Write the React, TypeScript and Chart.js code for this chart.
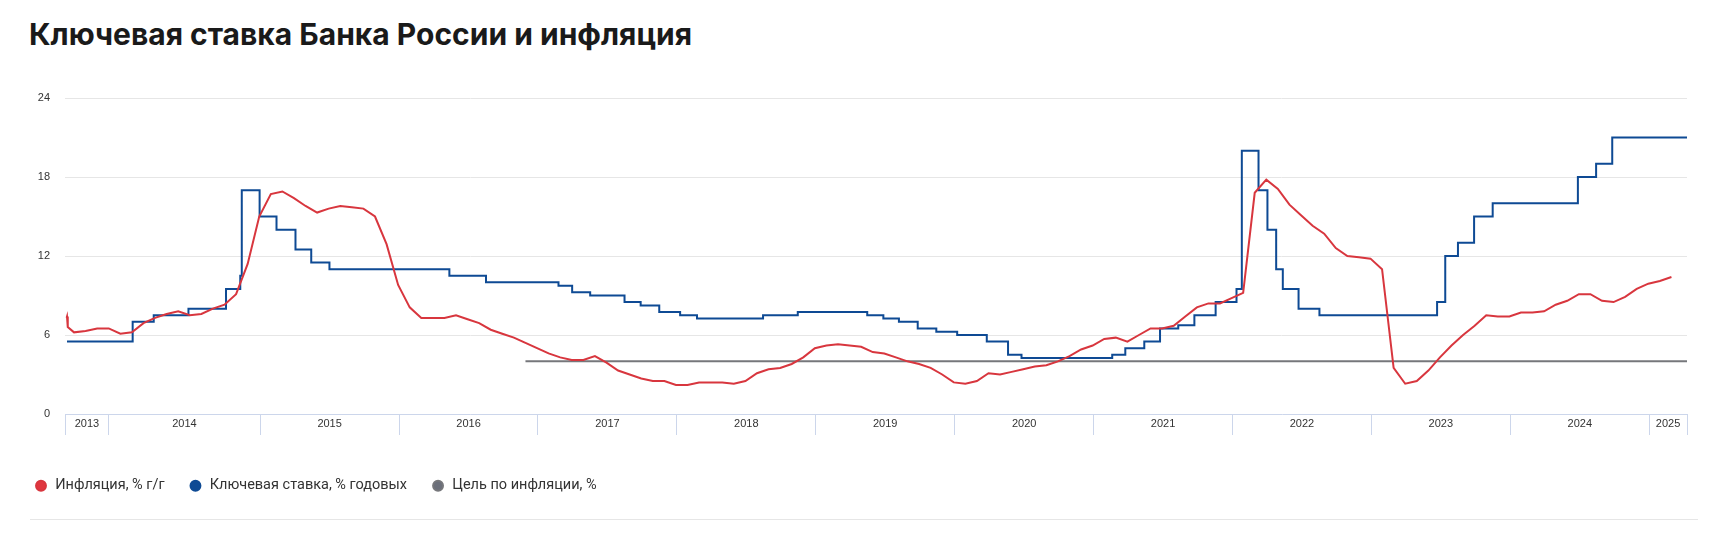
import { useEffect, useRef } from "react";
import { Chart, registerables } from "chart.js";

Chart.register(...registerables);

// Inflation, % y/y, monthly from Sep 2013 (each value is plotted at the end of its month)
const inflationFirstMonth = "2013-09";
const inflationValues = [
  6.2, 6.3, 6.5, 6.5,
  6.1, 6.2, 6.9, 7.3, 7.6, 7.8, 7.5, 7.6, 8.0, 8.3, 9.1, 11.4,
  15.0, 16.7, 16.9, 16.4, 15.8, 15.3, 15.6, 15.8, 15.7, 15.6, 15.0, 12.9,
  9.8, 8.1, 7.3, 7.3, 7.3, 7.5, 7.2, 6.9, 6.4, 6.1, 5.8, 5.4,
  5.0, 4.6, 4.3, 4.1, 4.1, 4.4, 3.9, 3.3, 3.0, 2.7, 2.5, 2.5,
  2.2, 2.2, 2.4, 2.4, 2.4, 2.3, 2.5, 3.1, 3.4, 3.5, 3.8, 4.3,
  5.0, 5.2, 5.3, 5.2, 5.1, 4.7, 4.6, 4.3, 4.0, 3.8, 3.5, 3.0,
  2.4, 2.3, 2.5, 3.1, 3.0, 3.2, 3.4, 3.6, 3.7, 4.0, 4.4, 4.9,
  5.2, 5.7, 5.8, 5.5, 6.0, 6.5, 6.5, 6.7, 7.4, 8.1, 8.4, 8.4,
  8.8, 9.2, 16.8, 17.8, 17.1, 15.9, 15.1, 14.3, 13.7, 12.6, 12.0, 11.9,
  11.8, 11.0, 3.5, 2.3, 2.5, 3.3, 4.3, 5.2, 6.0, 6.7, 7.5, 7.4,
  7.4, 7.7, 7.7, 7.8, 8.3, 8.6, 9.1, 9.1, 8.6, 8.5, 8.9, 9.5,
  9.9, 10.1, 10.4,
];
// short hook at the very start of the red line
const inflationLeadDates = ["2013-09-12", "2013-09-13", "2013-09-15"];
const inflationLeadValues = [7.3, 7.4, 6.6];

// Key rate, % per year (date of change -> new value)
const keyRateDates = [
  "2013-09-13", "2014-03-03", "2014-04-28", "2014-07-28", "2014-11-05", "2014-12-12",
  "2014-12-16", "2015-02-02", "2015-03-16", "2015-05-05", "2015-06-16", "2015-08-03",
  "2016-06-14", "2016-09-19", "2017-03-27", "2017-05-02", "2017-06-19", "2017-09-18",
  "2017-10-30", "2017-12-18", "2018-02-12", "2018-03-26", "2018-09-17", "2018-12-17",
  "2019-06-17", "2019-07-29", "2019-09-09", "2019-10-28", "2019-12-16", "2020-02-10",
  "2020-04-27", "2020-06-22", "2020-07-27", "2021-03-22", "2021-04-26", "2021-06-15",
  "2021-07-26", "2021-09-13", "2021-10-25", "2021-12-20", "2022-02-14", "2022-02-28",
  "2022-04-11", "2022-05-04", "2022-05-27", "2022-06-14", "2022-07-25", "2022-09-19",
  "2023-07-24", "2023-08-15", "2023-09-18", "2023-10-30", "2023-12-18", "2024-07-29",
  "2024-09-16", "2024-10-28",
];
const keyRateValues = [
  5.5, 7.0, 7.5, 8.0, 9.5, 10.5,
  17.0, 15.0, 14.0, 12.5, 11.5, 11.0,
  10.5, 10.0, 9.75, 9.25, 9.0, 8.5,
  8.25, 7.75, 7.5, 7.25, 7.5, 7.75,
  7.5, 7.25, 7.0, 6.5, 6.25, 6.0,
  5.5, 4.5, 4.25, 4.5, 5.0, 5.5,
  6.5, 6.75, 7.5, 8.5, 9.5, 20.0,
  17.0, 14.0, 11.0, 9.5, 8.0, 7.5,
  8.5, 12.0, 13.0, 15.0, 16.0, 18.0,
  19.0, 21.0,
];

// Inflation target, %
const targetDates = ["2017-01-01", "2025-05-13"];
const targetValues = [4, 4];

// x axis: year bands (edges in decimal years) and their labels
const xMin = 2013.685;
const xMax = 2025.362;
const yearEdges = [
  2013.685, 2014.0, 2015.09, 2016.09, 2017.09, 2018.09, 2019.09,
  2020.09, 2021.09, 2022.09, 2023.09, 2024.09, 2025.09, 2025.362,
];
const yearLabels = [
  "2013", "2014", "2015", "2016", "2017", "2018", "2019",
  "2020", "2021", "2022", "2023", "2024", "2025",
];
const yTicks = [0, 6, 12, 18, 24];

const toYear = (s: string) => {
  const [y, m, d] = s.split("-").map(Number);
  return y + (m - 1 + (d - 1) / 30.5) / 12;
};

const [infY, infM] = inflationFirstMonth.split("-").map(Number);

const inflationPoints = [
  ...inflationLeadDates.map((d, i) => ({ x: toYear(d), y: inflationLeadValues[i] })),
  ...inflationValues.map((v, i) => ({ x: infY + (infM + i) / 12, y: v })),
];

const keyRatePoints = [
  ...keyRateDates.map((d, i) => ({ x: toYear(d), y: keyRateValues[i] })),
  { x: xMax, y: keyRateValues[keyRateValues.length - 1] },
];

const targetPoints = targetDates.map((d, i) => ({ x: Math.min(toYear(d), xMax), y: targetValues[i] }));

const labelMids = yearLabels.map((_, i) => (yearEdges[i] + yearEdges[i + 1]) / 2);
const isEdge = (v: number) => yearEdges.some((e) => Math.abs(e - v) < 1e-6);

export default function App() {
  const canvasRef = useRef<HTMLCanvasElement>(null);
  const chartRef = useRef<Chart | null>(null);

  useEffect(() => {
    if (!canvasRef.current) return;
    if (chartRef.current) chartRef.current.destroy();

    chartRef.current = new Chart(canvasRef.current, {
      type: "line",
      data: {
        datasets: [
          {
            label: "Инфляция, % г/г",
            data: inflationPoints,
            borderColor: "#d8363e",
            backgroundColor: "#e0363f",
            borderWidth: 2,
            pointRadius: 0,
            tension: 0,
          },
          {
            label: "Ключевая ставка, % годовых",
            data: keyRatePoints,
            borderColor: "#0e4a94",
            backgroundColor: "#0e4a94",
            borderWidth: 2,
            pointRadius: 0,
            stepped: "before",
          },
          {
            label: "Цель по инфляции, %",
            data: targetPoints,
            borderColor: "#76777b",
            backgroundColor: "#6b6f7a",
            borderWidth: 2,
            pointRadius: 0,
          },
        ],
      },
      options: {
        animation: false,
        responsive: false,
        maintainAspectRatio: false,
        parsing: false,
        layout: { padding: { top: 98, left: 10, right: 32, bottom: 0 } },
        plugins: {
          legend: {
            position: "bottom",
            align: "start",
            labels: {
              usePointStyle: true,
              boxWidth: 14,
              boxHeight: 7,
              padding: 24,
              color: "#333333",
              font: { family: "Roboto", size: 14.5 },
            },
          },
          tooltip: { enabled: false },
        },
        scales: {
          x: {
            type: "linear",
            min: xMin,
            max: xMax,
            afterBuildTicks: (scale) => {
              scale.ticks = [...yearEdges, ...labelMids]
                .sort((a, b) => a - b)
                .map((value) => ({ value }));
            },
            afterFit: (scale) => {
              scale.height = 40.5;
            },
            border: { display: true, color: "#ccd6eb", width: 1 },
            grid: {
              drawOnChartArea: false,
              drawTicks: true,
              tickLength: 21,
              lineWidth: 1,
              tickColor: (ctx) => (isEdge(ctx.tick.value) ? "#ccd6eb" : "rgba(0,0,0,0)"),
            },
            ticks: {
              autoSkip: false,
              maxRotation: 0,
              minRotation: 0,
              padding: -17.6,
              color: "#333333",
              font: { family: "'Liberation Sans', Arial, sans-serif", size: 11 },
              callback: (value) => {
                const i = labelMids.findIndex((m) => Math.abs(m - Number(value)) < 1e-6);
                return i >= 0 ? yearLabels[i] : "";
              },
            },
          },
          y: {
            min: 0,
            max: 24,
            afterBuildTicks: (scale) => {
              scale.ticks = yTicks.map((value) => ({ value }));
            },
            afterFit: (scale) => {
              scale.width = 55;
            },
            border: { display: false },
            grid: {
              drawTicks: false,
              color: (ctx) => (ctx.tick.value === 0 ? "rgba(0,0,0,0)" : "#e6e6e6"),
            },
            ticks: {
              padding: 15,
              color: "#333333",
              font: { family: "'Liberation Sans', Arial, sans-serif", size: 11 },
            },
          },
        },
      },
    });

    return () => {
      if (chartRef.current) {
        chartRef.current.destroy();
        chartRef.current = null;
      }
    };
  }, []);

  return (
    <div style={{ position: "relative", width: 1719, height: 535, background: "#fff" }}>
      <style>{`body { margin: 0; }`}</style>
      <div
        style={{
          position: "absolute",
          left: 29,
          top: 16,
          fontFamily: "Inter, Roboto, sans-serif",
          fontWeight: 700,
          fontSize: 30,
          lineHeight: "36px",
          color: "#1a1a1a",
          whiteSpace: "nowrap",
        }}
      >
        Ключевая ставка Банка России и инфляция
      </div>
      <canvas
        ref={canvasRef}
        width={1719}
        height={503}
        style={{ position: "absolute", left: 0, top: 0, display: "block" }}
      />
      <div
        style={{
          position: "absolute",
          left: 30,
          top: 519,
          width: 1668,
          height: 1,
          background: "#e6e6e6",
        }}
      />
    </div>
  );
}
